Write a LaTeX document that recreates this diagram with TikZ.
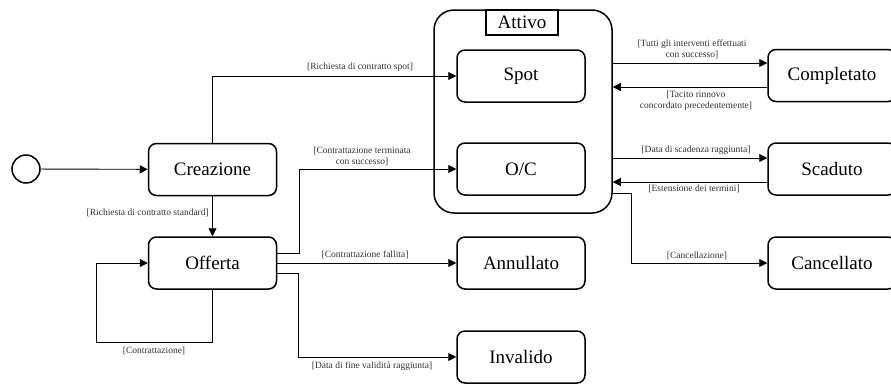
\documentclass[tikz,border=0pt]{standalone}
\usepackage{fontspec}
\setmainfont{Liberation Serif}
\usetikzlibrary{arrows.meta}
\begin{document}
\begin{tikzpicture}[x=1pt,y=-1pt,
  state/.style={draw, line width=1.5pt, rounded corners=8pt, minimum width=128pt,
    minimum height=52pt, inner sep=0pt, font=\fontsize{19}{22}\selectfont},
  composite/.style={draw, line width=1.5pt, rounded corners=20pt, minimum width=178pt,
    minimum height=203pt, inner sep=0pt},
  titlebox/.style={draw, line width=1.2pt, minimum width=72pt, minimum height=25pt,
    inner sep=0pt, font=\fontsize{19}{22}\selectfont},
  initial/.style={circle, draw, line width=1.5pt, minimum size=28pt, inner sep=0pt},
  flow/.style={line width=0.9pt, -{Triangle[length=8pt,width=8pt]}},
  guard/.style={font=\fontsize{9.5}{11}\selectfont, text=black!80, inner sep=0pt, align=center}]
\useasboundingbox (0,0) rectangle (891,383);

% composite state and its substates
\node[composite] (attivo) at (523,111.5) {};
\node[titlebox, fill=white] (attivotitle) at (522,22.5) {Attivo};
\node[state] (spot) at (521,76) {Spot};
\node[state] (oc) at (521,169) {O/C};

% simple states
\node[initial] (init) at (26,169) {};
\node[state] (crea) at (212.5,169.5) {Creazione};
\node[state] (off) at (212.5,263) {Offerta};
\node[state] (ann) at (521,263) {Annullato};
\node[state] (inv) at (521,357) {Invalido};
\node[state] (comp) at (832,75.5) {Completato};
\node[state] (scad) at (832,169) {Scaduto};
\node[state] (canc) at (832,263) {Cancellato};

% left part
\draw[flow] (init) -- (crea);
\draw[flow] (crea) -- (off);
\draw[flow] (crea.north) |- (spot.west);
\draw[flow] ([yshift=10pt]off.east) -- ++(22,0) |- (oc.west);
\draw[flow] (off) -- (ann);
\draw[flow] ([yshift=-10pt]off.east) -- ++(21,0) |- (inv.west);
\draw[flow] (off.south) -- ++(0,53) -- ++(-116,0) |- (off.west);

% right part
\coordinate (c1) at ([yshift=12.5pt]comp.west);
\coordinate (c2) at ([yshift=-11.5pt]comp.west);
\coordinate (c3) at ([yshift=11pt]scad.west);
\coordinate (c4) at ([yshift=-13pt]scad.west);
\draw[flow] (attivo.east |- c1) -- (c1);
\draw[flow] (c2) -- (attivo.east |- c2);
\draw[flow] (attivo.east |- c3) -- (c3);
\draw[flow] (c4) -- (attivo.east |- c4);
\draw[flow] ([yshift=-81.5pt]attivo.east) -- ++(19,0) |- (canc.west);

% guards
\node[guard, anchor=east] (g1) at (209,213) {[Richiesta di contratto standard]};
\node[guard] (g2) at (154,351) {[Contrattazione]};
\node[guard] (g3) at (360,67) {[Richiesta di contratto spot]};
\node[guard] (g4) at (362,156.5) {[Contrattazione terminata\\con successo]};
\node[guard] (g5) at (365,255) {[Contrattazione fallita]};
\node[guard] (g6) at (372,366) {[Data di fine validità raggiunta]};
\node[guard] (g7) at (692,49.5) {[Tutti gli interventi effettuati\\con successo]};
\node[guard] (g8) at (696,101) {[Tacito rinnovo\\concordato precedentemente]};
\node[guard] (g9) at (696,150) {[Data di scadenza raggiunta]};
\node[guard] (g10) at (694,189) {[Estensione dei termini]};
\node[guard] (g11) at (697,256) {[Cancellazione]};
\end{tikzpicture}
\end{document}
